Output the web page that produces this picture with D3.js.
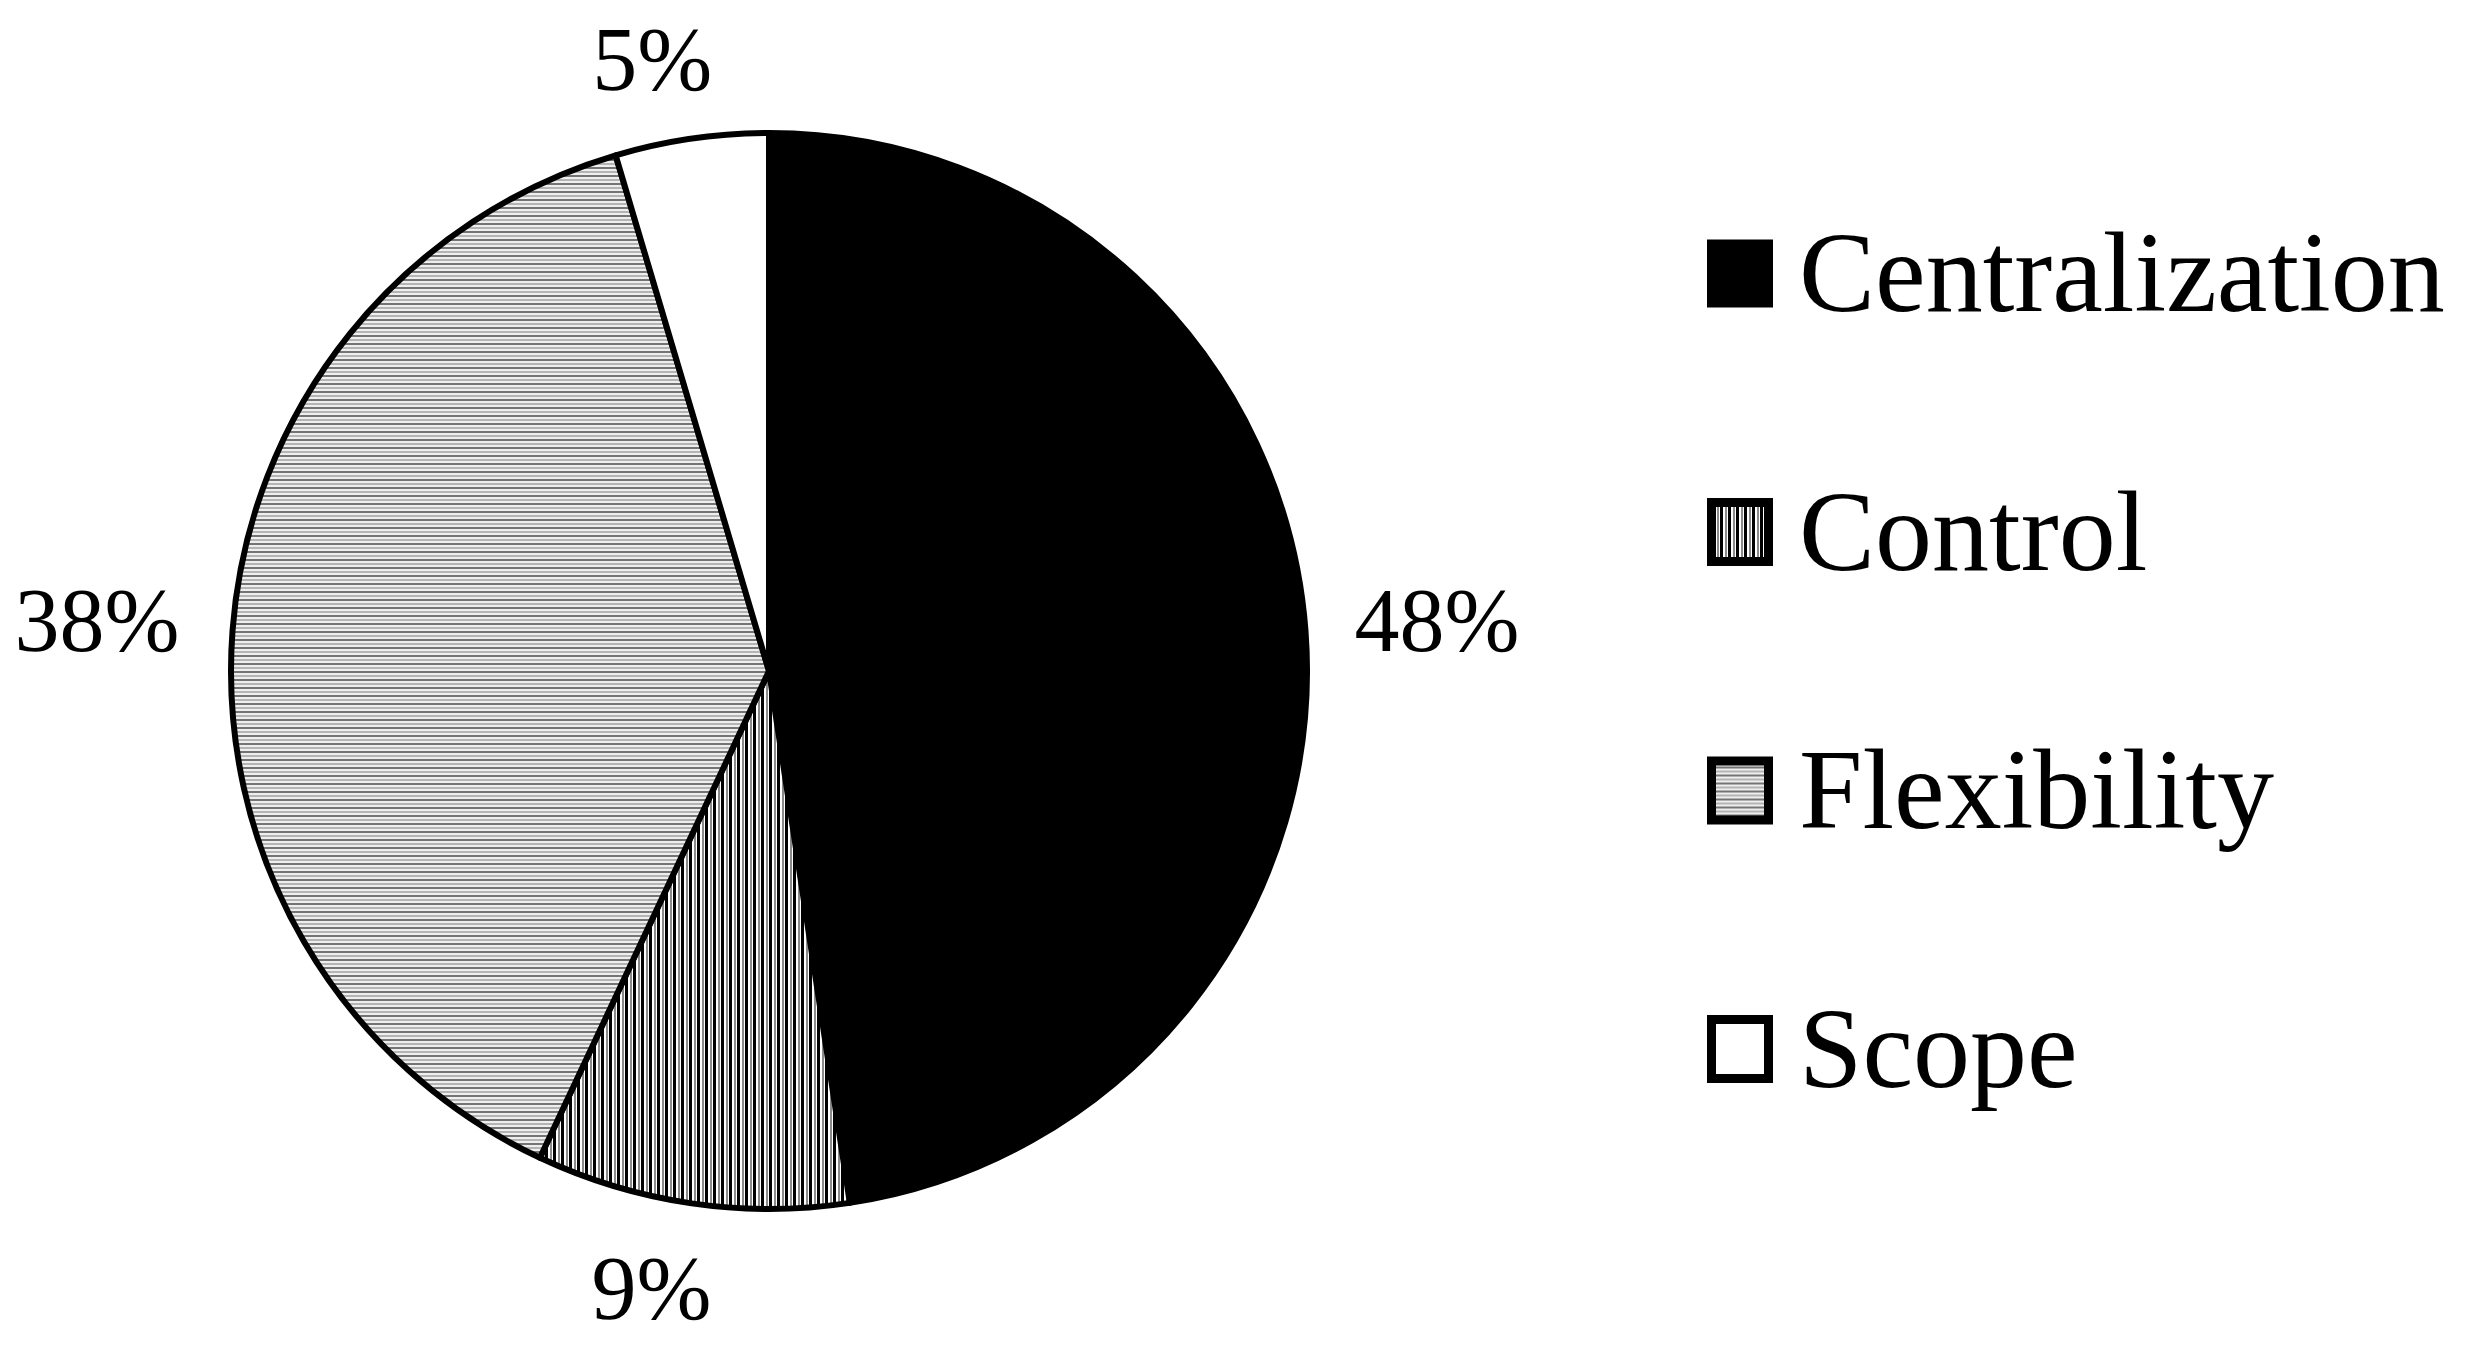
<!DOCTYPE html>
<html>
<head>
<meta charset="utf-8">
<script src="https://cdn.jsdelivr.net/npm/d3@7"></script>
<style>
  html, body { margin: 0; padding: 0; background: #fff; }
  svg { display: block; }
  text { font-family: "Liberation Serif", "Times New Roman", serif; fill: #000; }
</style>
</head>
<body>
<svg id="chart" width="2481" height="1349"></svg>
<script>
// ---- data ----
const categories = ["Centralization", "Control", "Flexibility", "Scope"];
const values = [47.6, 9.4, 38.4, 4.6];          // slice sizes
const valueLabels = ["48%", "9%", "38%", "5%"];  // printed labels
const fills = ["#000", "url(#vstripes)", "url(#hstripes)", "#fff"];

// ---- layout ----
const cx = 769, cy = 671, R = 538;
const svg = d3.select("#chart");

const defs = svg.append("defs");
// vertical stripes (Control)
const pv = defs.append("pattern").attr("id", "vstripes").attr("patternUnits", "userSpaceOnUse")
  .attr("width", 8).attr("height", 8);
pv.append("rect").attr("width", 8).attr("height", 8).attr("fill", "#fff");
pv.append("rect").attr("x", 0).attr("width", 3).attr("height", 8).attr("fill", "#000");
pv.append("rect").attr("x", 5).attr("width", 2).attr("height", 8).attr("fill", "#8a8a8a");
// horizontal stripes (Flexibility)
const ph = defs.append("pattern").attr("id", "hstripes").attr("patternUnits", "userSpaceOnUse")
  .attr("width", 8).attr("height", 8);
ph.append("rect").attr("width", 8).attr("height", 8).attr("fill", "#eeeeee");
ph.append("rect").attr("y", 0).attr("width", 8).attr("height", 2).attr("fill", "#747474");
ph.append("rect").attr("y", 4).attr("width", 8).attr("height", 2).attr("fill", "#b4b4b4");

const pie = d3.pie().sort(null).value(d => d.v);
const data = categories.map((c, i) => ({ c, v: values[i], label: valueLabels[i], fill: fills[i] }));
const arcs = pie(data);
const arc = d3.arc().innerRadius(0).outerRadius(R);

const g = svg.append("g").attr("transform", `translate(${cx},${cy})`);
g.selectAll("path.slice").data(arcs).join("path")
  .attr("class", "slice")
  .attr("d", arc)
  .attr("fill", d => d.data.fill)
  .attr("stroke", "#000")
  .attr("stroke-width", 6)
  .attr("stroke-linejoin", "round");

// value labels outside end
const fs = 90;
g.selectAll("text.val").data(arcs).join("text")
  .attr("class", "val")
  .attr("font-size", fs)
  .attr("text-anchor", "middle")
  .text(d => d.data.label)
  .each(function(d) {
    const a = (d.startAngle + d.endAngle) / 2;
    const s = Math.sin(a), c = Math.cos(a);
    const bb = this.getBBox();
    const hw = bb.width / 2, hh = 32;
    const gap = 50 - (c > 0 ? 10 : 4) * Math.abs(c);
    const dist = R + gap + Math.abs(s) * hw + Math.abs(c) * hh;
    const x = s * dist - 28 * Math.abs(c), y = -c * dist;
    d3.select(this).attr("x", x).attr("y", y + 0.34 * fs);
  });

// legend
const ly = d3.scalePoint().domain(categories).range([273.5, 1049]);
const leg = svg.append("g");
const sw = 9, boxW = 66, boxH = 68, lx = 1707, lfs = 114;
const items = leg.selectAll("g.item").data(data).join("g").attr("class", "item")
  .attr("transform", d => `translate(0,${ly(d.c)})`);
items.append("rect")
  .attr("x", lx + sw / 2).attr("y", -boxH / 2 + sw / 2)
  .attr("width", boxW - sw).attr("height", boxH - sw)
  .attr("fill", d => d.fill)
  .attr("stroke", "#000").attr("stroke-width", sw);
items.append("text")
  .attr("x", 1799).attr("y", 0.33 * lfs)
  .attr("font-size", lfs)
  .text(d => d.c);
</script>
</body>
</html>
